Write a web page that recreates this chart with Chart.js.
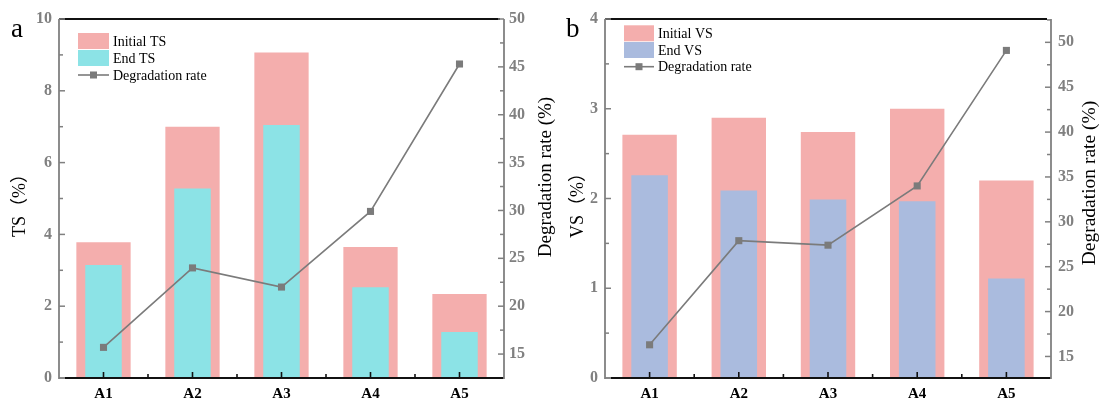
<!DOCTYPE html>
<html><head><meta charset="utf-8">
<script src="https://cdn.jsdelivr.net/npm/chart.js@4"></script>
<style>
html,body{margin:0;padding:0;background:#fff;}
#wrap{position:relative;width:1099px;height:399px;overflow:hidden;background:#fff;}
canvas{position:absolute;top:0;}
#ca{left:0;} #cb{left:549px;}
</style></head><body>
<div id="wrap"><canvas id="ca" width="562" height="399"></canvas><canvas id="cb" width="550" height="399"></canvas></div>
<script>
// ---------- data ----------
const categories = ['A1','A2','A3','A4','A5'];
const initialTS = [3.78, 7.0, 9.07, 3.65, 2.34];
const endTS     = [3.15, 5.28, 7.05, 2.53, 1.28];
const rateTS    = [15.7, 24.0, 22.0, 29.9, 45.3];
const initialVS = [2.71, 2.90, 2.74, 3.00, 2.20];
const endVS     = [2.26, 2.09, 1.99, 1.97, 1.11];
const rateVS    = [16.3, 27.9, 27.4, 34.0, 49.1];
// tick labels
const tsTicks   = [0, 2, 4, 6, 8, 10];
const tsMinor   = [1, 3, 5, 7, 9];
const vsTicks   = [0, 1, 2, 3, 4];
const vsMinor   = [0.5, 1.5, 2.5, 3.5];
const rateTicks = [15, 20, 25, 30, 35, 40, 45, 50];
const rateMinorA = [17.5, 22.5, 27.5, 32.5, 37.5, 42.5, 47.5];
const rateMinorB = [17.5, 22.5, 27.5, 32.5, 37.5, 42.5, 47.5, 52.5];

// ---------- styling ----------
const serif = "'Liberation Serif','Times New Roman','Noto Sans CJK SC',serif";
const PINK = '#F4AEAD', CYAN = '#8CE3E6', LAV = '#AABBDE', GRAY = '#7b7b7b';

function decoPlugin(d){
  return {
    id: 'deco',
    afterDraw(chart){
      const ctx = chart.ctx, a = chart.chartArea;
      const xs = chart.scales.x, yl = chart.scales.y, yr = chart.scales.y2;
      const line = (x1,y1,x2,y2)=>{ctx.beginPath();ctx.moveTo(x1,y1);ctx.lineTo(x2,y2);ctx.stroke();};
      ctx.save();
      // top frame line
      ctx.strokeStyle = '#111'; ctx.lineWidth = 2;
      line(a.left, a.top, a.right - 4, a.top);
      // bottom axis
      line(a.left + 6, a.bottom, a.right, a.bottom);
      // x ticks (inward)
      ctx.lineWidth = 1.6;
      categories.forEach((c,i)=>{const x = xs.getPixelForValue(i); line(x, a.bottom, x, a.bottom - 6);});
      for (let i = 0; i < categories.length - 1; i++) {
        const x = (xs.getPixelForValue(i) + xs.getPixelForValue(i+1)) / 2;
        line(x, a.bottom, x, a.bottom - 4);
      }
      // side axes
      ctx.strokeStyle = '#808080'; ctx.lineWidth = 1.8;
      line(a.left, a.top, a.left, a.bottom + 1);
      line(a.right, a.top, a.right, a.bottom + 1);
      ctx.lineWidth = 1.5;
      line(a.left, a.bottom, a.left + 6, a.bottom);
      d.leftMajor.forEach(v=>{const y = yl.getPixelForValue(v); line(a.left, y, a.left + 6, y);});
      d.leftMinor.forEach(v=>{const y = yl.getPixelForValue(v); line(a.left, y, a.left + 4, y);});
      d.rightMajor.forEach(v=>{const y = yr.getPixelForValue(v); line(a.right, y, a.right - 6, y);});
      d.rightMinor.forEach(v=>{const y = yr.getPixelForValue(v); line(a.right, y, a.right - 4, y);});

      // legend (Initial, End, Degradation rate)
      const L = d.legend;
      const ds = chart.data.datasets.slice().sort((p,q)=>q.order - p.order);
      ctx.font = '14px ' + serif; ctx.textBaseline = 'middle'; ctx.textAlign = 'left';
      ds.forEach((s, i)=>{
        const cy = L.y + i * L.dy;
        if (s.type === 'line') {
          ctx.strokeStyle = GRAY; ctx.lineWidth = 1.6;
          line(L.x, cy, L.x + L.w, cy);
          ctx.fillStyle = GRAY;
          ctx.fillRect(L.x + L.w/2 - 3.5, cy - 3.5, 7, 7);
        } else {
          ctx.fillStyle = s.backgroundColor;
          ctx.fillRect(L.x, cy - 8, L.w, 16);
        }
        ctx.fillStyle = '#000';
        ctx.fillText(s.label, L.x + L.w + 4, cy + 1);
      });

      // axis titles
      ctx.fillStyle = '#000';
      ctx.textAlign = 'center'; ctx.textBaseline = 'middle';
      ctx.font = '18px ' + serif;
      ctx.save(); ctx.translate(d.leftTitle.x, d.leftTitle.y); ctx.rotate(-Math.PI/2);
      ctx.fillText(d.leftTitle.text, 0, 0); ctx.restore();
      ctx.font = d.rightTitle.size + 'px ' + serif;
      ctx.save(); ctx.translate(d.rightTitle.x, d.rightTitle.y); ctx.rotate(-Math.PI/2);
      ctx.fillText(d.rightTitle.text, 0, 0); ctx.restore();
      // panel letter
      ctx.font = '27px ' + serif; ctx.textAlign = 'left'; ctx.textBaseline = 'alphabetic';
      ctx.fillText(d.panel.text, d.panel.x, d.panel.y);
      ctx.restore();
    }
  };
}

function makeChart(id, o){
  const tickFont = {family: serif, size: 16, weight: 'bold'};
  return new Chart(document.getElementById(id), {
    data: {
      labels: categories,
      datasets: [
        {type:'line', label:'Degradation rate', data:o.rate, yAxisID:'y2', borderColor:GRAY, borderWidth:1.6,
         pointStyle:'rect', pointRadius:5, pointBackgroundColor:GRAY, pointBorderWidth:0, order:0, tension:0},
        {type:'bar', label:o.endLabel, data:o.end, yAxisID:'y', backgroundColor:o.endColor, grouped:false,
         barPercentage:0.41, categoryPercentage:1, borderWidth:0, order:1},
        {type:'bar', label:o.initLabel, data:o.init, yAxisID:'y', backgroundColor:PINK, grouped:false,
         barPercentage:0.61, categoryPercentage:1, borderWidth:0, order:2}
      ]
    },
    options: {
      responsive:false, animation:false, devicePixelRatio:1,
      layout:{padding:{top:19, left:0, right:0, bottom:0}},
      plugins:{legend:{display:false}, tooltip:{enabled:false}},
      scales:{
        x:{type:'category', offset:true, grid:{display:false, drawTicks:false}, border:{display:false},
           ticks:{color:'#000', font:{family: serif, size: 15, weight: 'bold'}, padding:7},
           afterFit(s){ s.height = 21; }},
        y:{position:'left', min:0, max:o.yMax, grid:{display:false, drawTicks:false}, border:{display:false},
           ticks:{color:'#808080', font:tickFont, padding:7},
           afterBuildTicks(s){ s.ticks = o.yTicks.map(v=>({value:v})); },
           afterFit(s){ s.width = o.leftW; }},
        y2:{position:'right', min:o.rMin, max:o.rMax, grid:{display:false, drawTicks:false}, border:{display:false},
           ticks:{color:'#808080', font:tickFont, padding:o.rPad},
           afterBuildTicks(s){ s.ticks = rateTicks.map(v=>({value:v})); },
           afterFit(s){ s.width = o.rightW; }}
      }
    },
    plugins:[decoPlugin(o.deco)]
  });
}

// Chart a
makeChart('ca', {
  init:initialTS, end:endTS, rate:rateTS, initLabel:'Initial TS', endLabel:'End TS', endColor:CYAN,
  yMax:10, yTicks:tsTicks, rMin:12.5, rMax:50, leftW:59, rightW:58, rPad:5,
  deco:{leftMajor:tsTicks, leftMinor:tsMinor, rightMajor:rateTicks, rightMinor:rateMinorA,
        legend:{x:78, y:41, dy:17, w:31},
        leftTitle:{text:'TS（%）', x:20, y:201},
        rightTitle:{text:'Degradation rate (%)', x:546, y:177, size:19},
        panel:{text:'a', x:11, y:37}}
});
// Chart b
makeChart('cb', {
  init:initialVS, end:endVS, rate:rateVS, initLabel:'Initial VS', endLabel:'End VS', endColor:LAV,
  yMax:4, yTicks:vsTicks, rMin:12.6, rMax:52.6, leftW:56, rightW:48, rPad:7,
  deco:{leftMajor:vsTicks, leftMinor:vsMinor, rightMajor:rateTicks, rightMinor:rateMinorB,
        legend:{x:75, y:33.3, dy:16.7, w:30},
        leftTitle:{text:'VS（%）', x:29, y:201},
        rightTitle:{text:'Degradation rate (%)', x:541, y:183, size:19.5},
        panel:{text:'b', x:17, y:37}}
});
</script>
</body></html>
